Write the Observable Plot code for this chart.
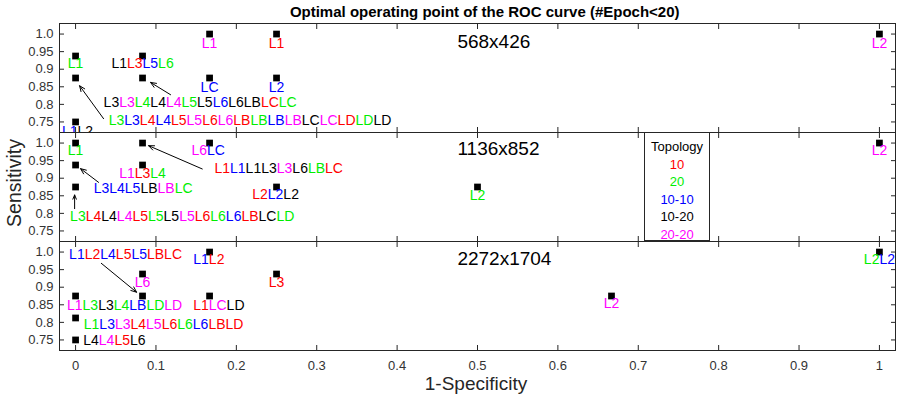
<!DOCTYPE html>
<html>
<head>
<meta charset="utf-8">
<script src="https://cdn.jsdelivr.net/npm/d3@7"></script>
<script src="https://cdn.jsdelivr.net/npm/@observablehq/plot@0.6"></script>
<style>
  body { margin: 0; background: #fff; }
  #wrap { position: relative; width: 898px; height: 400px; font-family: "Liberation Sans", Arial, sans-serif; }
  #legend { position: absolute; left: 644px; top: 131.5px; width: 66px; height: 109.5px; box-sizing: border-box;
            border: 1px solid #262626; background: #fff; overflow: hidden; text-align: center;
            font-size: 13px; line-height: 17.6px; padding-top: 5.5px; }
</style>
</head>
<body>
<div id="wrap"><div id="legend"></div></div>
<script>
// ---------- data ----------
const chartTitle = "Optimal operating point of the ROC curve (#Epoch<20)";
const xLabel = "1-Specificity";
const yLabel = "Sensitivity";
const legendTitle = "Topology";

const panels = ["568x426", "1136x852", "2272x1704"];
const panelTitleX = [0.475, 0.475, 0.475];
const panelTitleY = [0.979, 0.984, 0.981];

const topologies = ["10", "20", "10-10", "10-20", "20-20"];
const topoColors = ["#ff0000", "#00ee00", "#0000ff", "#000000", "#ff00ff"];

const xTicks = [0, 0.1, 0.2, 0.3, 0.4, 0.5, 0.6, 0.7, 0.8, 0.9, 1];
const xTickLabels = ["0", "0.1", "0.2", "0.3", "0.4", "0.5", "0.6", "0.7", "0.8", "0.9", "1"];
const yTicks = [0.75, 0.8, 0.85, 0.9, 0.95, 1];
const yTickLabels = ["0.75", "0.8", "0.85", "0.9", "0.95", "1.0"];

// points [1-specificity, sensitivity]
const points568 = [[0, 0.9375], [0, 0.875], [0, 0.75], [0.0833, 0.9375], [0.0833, 0.875],
                   [0.1667, 1], [0.25, 1], [0.1667, 0.875], [0.25, 0.875], [1, 1]];
const points1136 = [[0, 1], [0, 0.9375], [0, 0.875], [0.0833, 1], [0.0833, 0.9375],
                    [0.1667, 1], [0.25, 0.875], [0.5, 0.875], [1, 1]];
const points2272 = [[0.1667, 1], [0.0833, 0.9375], [0.25, 0.9375], [0, 0.875], [0.0833, 0.875],
                    [0.1667, 0.875], [0, 0.8125], [0, 0.75], [0.6667, 0.875], [1, 1]];

// labels: [x, y, text, topology of each 2-character layer name]
const labels568 = [
  [0, 0.915, "L1", ["20"]],
  [0.0833, 0.915, "L1L3L5L6", ["10-20", "10", "10-10", "20"]],
  [0.1667, 0.973, "L1", ["20-20"]],
  [0.25, 0.973, "L1", ["10"]],
  [0.1667, 0.848, "LC", ["10-10"]],
  [0.25, 0.848, "L2", ["10-10"]],
  [1, 0.973, "L2", ["20-20"]],
  [0.155, 0.806, "L3L3L4L4L4L5L5L6L6LBLCLC",
    ["10-20", "20-20", "20", "10-20", "20-20", "20", "10-20", "10-10", "10-20", "10-20", "10", "20"]],
  [0.217, 0.754, "L3L3L4L4L5L5L6L6LBLBLBLBLCLCLDLDLD",
    ["20", "10-10", "10", "10-10", "10", "20-20", "10", "20-20", "10", "20", "10-10", "20-20", "10-20", "20-20", "10", "20", "10-20"]],
  [0.0025, 0.724, "L1L2", ["10-10", "10-20"]]
];
const labels1136 = [
  [0, 0.978, "L1", ["20"]],
  [0.084, 0.8695, "L3L4L5LBLBLC", ["10-10", "10-10", "10-10", "10-20", "20-20", "20"]],
  [0.1327, 0.7916, "L3L4L4L4L5L5L5L5L6L6L6LBLCLD",
    ["20", "10", "10-20", "20-20", "10", "20", "10-20", "20-20", "10", "20", "10-10", "10", "10-20", "20"]],
  [0.0833, 0.912, "L1L3L4", ["20-20", "10", "20"]],
  [0.2527, 0.9263, "L1L1L1L3L3L6LBLC", ["10", "10-10", "10-20", "10-20", "20-20", "10-20", "20", "10"]],
  [0.165, 0.978, "L6LC", ["20-20", "10-10"]],
  [0.2488, 0.8524, "L2L2L2", ["10", "10-10", "10-20"]],
  [0.5, 0.852, "L2", ["20"]],
  [1, 0.978, "L2", ["20-20"]]
];
const labels2272 = [
  [0.0622, 0.9928, "L1L2L4L5L5LBLC", ["10-10", "10", "10-10", "10", "10-10", "10", "10"]],
  [0.1658, 0.9777, "L1L2", ["10-10", "10"]],
  [0.0833, 0.914, "L6", ["20-20"]],
  [0.25, 0.914, "L3", ["10"]],
  [0.061, 0.8479, "L1L3L3L4LBLDLD", ["20-20", "20", "10-20", "20", "10-10", "20", "20-20"]],
  [0.1782, 0.8479, "L1LCLD", ["10", "20-20", "10-20"]],
  [0.1095, 0.793, "L1L3L3L4L5L6L6L6LBLD", ["20", "10-10", "20-20", "10", "20-20", "10", "20", "10-10", "10", "10"]],
  [0.0483, 0.7485, "L4L4L5L6", ["10-20", "20-20", "10", "10-20"]],
  [0.6667, 0.8527, "L2", ["20-20"]],
  [1, 0.9777, "L2L2", ["20", "10-10"]]
];

// arrows [x1, y1, x2, y2]
const arrows568 = [[0.1182, 0.8274, 0.0933, 0.8624], [0.0348, 0.7593, 0.005, 0.853]];
const arrows1136 = [[0.0286, 0.8882, 0.0062, 0.9272], [-0.0012, 0.8135, -0.0012, 0.8524], [0.1576, 0.9263, 0.0908, 0.9925]];
const arrows2272 = [[0.032, 0.968, 0.0759, 0.8857]];

// ---------- tables ----------
const pointSets = [points568, points1136, points2272];
const labelSets = [labels568, labels1136, labels2272];
const arrowSets = [arrows568, arrows1136, arrows2272];

const pointRows = pointSets.flatMap((s, k) => s.map(([x, y]) => ({panel: panels[k], x, y})));
const labelRows = labelSets.flatMap((s, k) => s.map(([x, y, text, topo]) => ({panel: panels[k], x, y, text, topo})));
const arrowRows = arrowSets.flatMap((s, k) => s.map(([x1, y1, x2, y2]) => ({panel: panels[k], x1, y1, x2, y2})));
const titleRows = panels.map((p, k) => ({panel: p, x: panelTitleX[k], y: panelTitleY[k], text: p}));

const colorOf = t => topoColors[topologies.indexOf(t)];
const axisColor = "#262626";
const tickTextColor = "#333333";
const font = "Liberation Sans, Arial, Helvetica, sans-serif";

function colorTokens(index, scales, values, dimensions, context, next) {
  const g = next(index, scales, values, dimensions, context);
  const nodes = g.querySelectorAll("text");
  nodes.forEach((node, j) => {
    const d = labelRows[index[j]];
    if (!d) return;
    node.textContent = "";
    d.topo.forEach((t, k) => {
      const ts = document.createElementNS("http://www.w3.org/2000/svg", "tspan");
      ts.setAttribute("fill", colorOf(t));
      ts.textContent = d.text.slice(2 * k, 2 * k + 2);
      node.appendChild(ts);
    });
  });
  return g;
}

const chart = Plot.plot({
  width: 898,
  height: 400,
  marginTop: 22.7,
  marginBottom: 49.7,
  marginLeft: 59,
  marginRight: 3,
  style: {fontFamily: font, fontSize: "13px", background: "white", color: axisColor},
  x: {domain: [-0.02, 1.02]},
  y: {domain: [0.72, 1.03]},
  fy: {domain: panels, padding: 0, axis: null},
  marks: [
    // inward ticks on all four sides of every panel
    Plot.axisX(xTicks, {anchor: "bottom", facetAnchor: null, tickSize: -5, fill: "none", label: null, stroke: axisColor}),
    Plot.axisX(xTicks, {anchor: "top", facetAnchor: null, tickSize: -5, fill: "none", label: null, stroke: axisColor}),
    Plot.axisY(yTicks, {anchor: "left", facetAnchor: null, tickSize: -5, fill: "none", label: null, stroke: axisColor}),
    Plot.axisY(yTicks, {anchor: "right", facetAnchor: null, tickSize: -5, fill: "none", label: null, stroke: axisColor}),
    // tick labels
    Plot.axisX(xTicks, {anchor: "bottom", tickSize: 0, tickPadding: 10, label: null, fill: tickTextColor,
      fontSize: 13, tickFormat: d => xTickLabels[xTicks.indexOf(d)]}),
    Plot.axisY(yTicks, {anchor: "left", facetAnchor: null, tickSize: 0, tickPadding: 6, label: null, fill: tickTextColor,
      fontSize: 13, tickFormat: d => yTickLabels[yTicks.indexOf(d)]}),
    Plot.frame({stroke: axisColor}),
    Plot.text(titleRows, {x: "x", y: "y", fy: "panel", text: "text", textAnchor: "start", fontSize: 19, fill: "black"}),
    Plot.dot(pointRows, {x: "x", y: "y", fy: "panel", symbol: "square", r: 3.8, fill: "black"}),
    Plot.arrow(arrowRows, {x1: "x1", y1: "y1", x2: "x2", y2: "y2", fy: "panel", stroke: "black",
      strokeWidth: 1, headLength: 9, headAngle: 45}),
    Plot.text(labelRows, {x: "x", y: "y", fy: "panel", text: "text", fontSize: 14, fill: "black",
      clip: true, render: colorTokens})
  ]
});

const wrap = document.getElementById("wrap");
wrap.insertBefore(chart, wrap.firstChild);

const svg = d3.select(chart);
svg.append("text").attr("x", 484.7).attr("y", 17).attr("text-anchor", "middle")
  .attr("font-family", font).attr("font-size", 15).attr("font-weight", "bold").attr("fill", "black")
  .text(chartTitle);
svg.append("text").attr("transform", "translate(20.5,183) rotate(-90)").attr("text-anchor", "middle")
  .attr("font-family", font).attr("font-size", 19.5).attr("fill", axisColor).text(yLabel);
svg.append("text").attr("x", 476).attr("y", 389.5).attr("text-anchor", "middle")
  .attr("font-family", font).attr("font-size", 19).attr("fill", axisColor).text(xLabel);

const legend = d3.select("#legend");
legend.append("div").style("color", "#000").text(legendTitle);
topologies.forEach((t, i) => legend.append("div").style("color", topoColors[i]).text(t));
</script>
</body>
</html>
